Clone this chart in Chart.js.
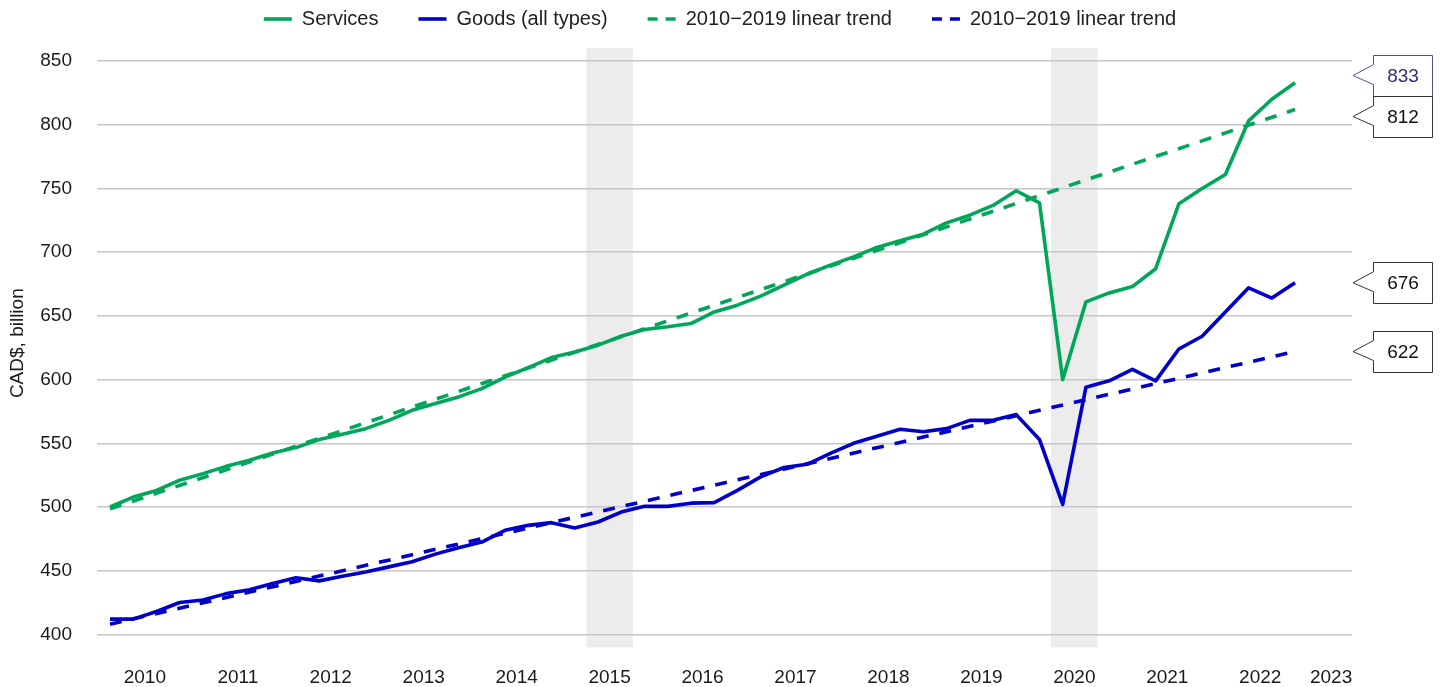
<!DOCTYPE html>
<html>
<head>
<meta charset="utf-8">
<script src="https://cdn.jsdelivr.net/npm/chart.js@4.4.1/dist/chart.umd.min.js"></script>
<style>
html,body{margin:0;padding:0;background:#fff;}
#wrap{width:1440px;height:687px;position:relative;}
</style>
</head>
<body>
<div id="wrap"><canvas id="c"></canvas></div>
<script>
// ---- Data ----
const quarters = [
  '2010Q1','2010Q2','2010Q3','2010Q4','2011Q1','2011Q2','2011Q3','2011Q4',
  '2012Q1','2012Q2','2012Q3','2012Q4','2013Q1','2013Q2','2013Q3','2013Q4',
  '2014Q1','2014Q2','2014Q3','2014Q4','2015Q1','2015Q2','2015Q3','2015Q4',
  '2016Q1','2016Q2','2016Q3','2016Q4','2017Q1','2017Q2','2017Q3','2017Q4',
  '2018Q1','2018Q2','2018Q3','2018Q4','2019Q1','2019Q2','2019Q3','2019Q4',
  '2020Q1','2020Q2','2020Q3','2020Q4','2021Q1','2021Q2','2021Q3','2021Q4',
  '2022Q1','2022Q2','2022Q3','2022Q4'
];
const services = [500, 507.8, 513, 521, 526.2, 531.9, 536.7, 542.4, 546.6, 552.9,
  557, 561.5, 568, 575.9, 581.2, 586.4, 592.9, 602, 609.4, 617.3,
  621.7, 627, 634, 639.3, 641.4, 644, 653.1, 658.4, 665.5, 674.1,
  682.7, 689.8, 696.3, 703.7, 708.9, 714.1, 723, 729, 736.7, 748.2,
  738.7, 600, 661, 668, 673, 687, 738, 750, 761, 803, 820, 833];
const goods = [412, 412, 418, 425, 427, 432, 435, 440, 444.5, 442,
  445.6, 449, 453, 457, 463, 468, 472.5, 481.7, 485.6, 487.7,
  483.5, 488.2, 496, 500.5, 500.5, 503, 503.4, 513, 523.6, 531,
  533.5, 542, 550, 555.5, 561, 559, 561.5, 568, 568, 572.5,
  553, 502, 594, 599, 608, 599, 624, 634, 653, 672, 664, 676];
const trendQuarters = ['2010Q1', '2022Q4'];
const servicesTrend = [498.5, 812];
const goodsTrend = [408, 622];
const shadedPeriods = [['2015Q2', '2015Q3'], ['2020Q2', '2020Q3']];
const yTicks = [400, 450, 500, 550, 600, 650, 700, 750, 800, 850];
const xTickLabels = ['2010','2011','2012','2013','2014','2015','2016','2017','2018','2019','2020','2021','2022','2023'];
const seriesNames = ['Services', 'Goods (all types)', '2010\u22122019 linear trend', '2010\u22122019 linear trend'];

// ---- Styles ----
const GREEN = '#00a65a';
const BLUE = '#0000c8';
const FONT = "'Liberation Sans', Arial, Helvetica, sans-serif";
const X_MIN = -0.56, X_MAX = 53.45;
const Y_MIN = 389.8, Y_MAX = 867.3, SHADE_TOP = 860.2;

const qx = q => quarters.indexOf(q);
const toPts = (cats, vals) => vals.map((v, i) => ({x: qx(cats[i]), y: v}));

const shadePlugin = {
  id: 'shade',
  beforeDraw(chart) {
    const {ctx, scales: {x, y}} = chart;
    ctx.save();
    ctx.fillStyle = '#ececec';
    const top = y.getPixelForValue(SHADE_TOP), bot = y.getPixelForValue(Y_MIN);
    shadedPeriods.forEach(([a, b]) => {
      const l = x.getPixelForValue(qx(a) - 0.5), r = x.getPixelForValue(qx(b) + 0.5);
      ctx.fillRect(l, top, r - l, bot - top);
    });
    ctx.restore();
  }
};

const calloutPlugin = {
  id: 'callouts',
  afterDraw(chart, args, opts) {
    const {ctx, chartArea, scales: {y}} = chart;
    const H = 41, W = 59;
    const items = chart.data.datasets.map((ds, i) => {
      const v = ds.data[ds.data.length - 1].y;
      return {v, cy: y.getPixelForValue(v), color: opts.colors[i], text: opts.textColors[i]};
    }).sort((a, b) => a.cy - b.cy);
    for (let k = 0; k < items.length - 1; k++) {
      const a = items[k], b = items[k + 1];
      if (b.cy - a.cy < H) {
        const mid = (a.cy + b.cy) / 2;
        a.cy = mid - H / 2; b.cy = mid + H / 2;
      }
    }
    const x0 = Math.round(chartArea.right) + 21.5, x1 = x0 + W, tip = Math.round(chartArea.right) + 1;
    ctx.save();
    ctx.font = '19px ' + FONT;
    ctx.textAlign = 'center';
    ctx.textBaseline = 'middle';
    items.forEach(it => {
      const top = Math.round(it.cy - H / 2) + 0.5, bot = top + H, cy = it.cy;
      ctx.beginPath();
      ctx.moveTo(x0, top);
      ctx.lineTo(x1, top);
      ctx.lineTo(x1, bot);
      ctx.lineTo(x0, bot);
      ctx.lineTo(x0, cy + 9);
      ctx.lineTo(tip, cy);
      ctx.lineTo(x0, cy - 11);
      ctx.closePath();
      ctx.fillStyle = '#fff';
      ctx.fill();
      ctx.lineWidth = 1;
      ctx.strokeStyle = it.color;
      ctx.stroke();
      ctx.fillStyle = it.text;
      ctx.fillText(String(Math.round(it.v)), (x0 + x1) / 2, cy + 1);
    });
    ctx.restore();
  }
};

const ds = (label, data, color, dashed, order) => ({
  label, data, borderColor: color, backgroundColor: color, borderWidth: 3.6,
  borderDash: dashed ? [12, 11] : [], pointRadius: 0, pointHoverRadius: 0,
  tension: 0, borderJoinStyle: 'round', fill: false, order
});

new Chart(document.getElementById('c'), {
  type: 'line',
  data: {
    datasets: [
      ds(seriesNames[0], toPts(quarters, services), GREEN, false, 1),
      ds(seriesNames[1], toPts(quarters, goods), BLUE, false, 1),
      ds(seriesNames[2], toPts(trendQuarters, servicesTrend), GREEN, true, 0),
      ds(seriesNames[3], toPts(trendQuarters, goodsTrend), BLUE, true, 0)
    ]
  },
  options: {
    responsive: true,
    maintainAspectRatio: false,
    animation: false,
    devicePixelRatio: 1,
    layout: {padding: {top: -31, left: 0, right: 0, bottom: -20.4}},
    plugins: {
      tooltip: {enabled: false},
      legend: {
        position: 'top',
        labels: {
          usePointStyle: true,
          pointStyle: 'line',
          pointStyleWidth: 28,
          padding: 40,
          color: '#222',
          font: {family: FONT, size: 20},
          sort: (a, b) => a.datasetIndex - b.datasetIndex,
          generateLabels: chart => chart.data.datasets.map((d, i) => ({
            text: d.label, datasetIndex: i, fillStyle: d.borderColor, strokeStyle: d.borderColor,
            lineWidth: 3.6, lineDash: d.borderDash.length ? [10, 8] : [], lineCap: 'butt',
            pointStyle: 'line', hidden: false, fontColor: '#222'
          }))
        }
      },
      callouts: {
        colors: ['#5a4a90', '#333', '#333', '#333'],
        textColors: ['#3c2a6e', '#111', '#111', '#111']
      }
    },
    scales: {
      x: {
        type: 'linear', min: X_MIN, max: X_MAX,
        grid: {display: false, drawTicks: false},
        border: {display: false},
        afterBuildTicks: s => {
          s.ticks = xTickLabels.map((l, k) => ({value: Math.min(k * 4 + 1.5, X_MAX - 0.9)}));
        },
        ticks: {
          autoSkip: false, maxRotation: 0, padding: 18.6, color: '#1a1a1a',
          font: {family: FONT, size: 19},
          callback: (v, i) => xTickLabels[i]
        }
      },
      y: {
        type: 'linear', min: Y_MIN, max: Y_MAX,
        afterFit: s => { s.width = 97; },
        afterBuildTicks: s => { s.ticks = yTicks.map(v => ({value: v})); },
        grid: {color: '#c6c6c8', lineWidth: 1.5, drawTicks: false},
        border: {display: false},
        ticks: {padding: 25, color: '#1a1a1a', font: {family: FONT, size: 19}},
        title: {display: true, text: 'CAD$, billion', color: '#1a1a1a',
          font: {family: FONT, size: 19}, padding: {top: 6, bottom: 0}}
      },
      yR: {
        type: 'linear', position: 'right', display: true, min: Y_MIN, max: Y_MAX,
        afterFit: s => { s.width = 88; },
        grid: {display: false, drawTicks: false},
        border: {display: false},
        ticks: {display: false}
      }
    }
  },
  plugins: [shadePlugin, calloutPlugin]
});
</script>
</body>
</html>
